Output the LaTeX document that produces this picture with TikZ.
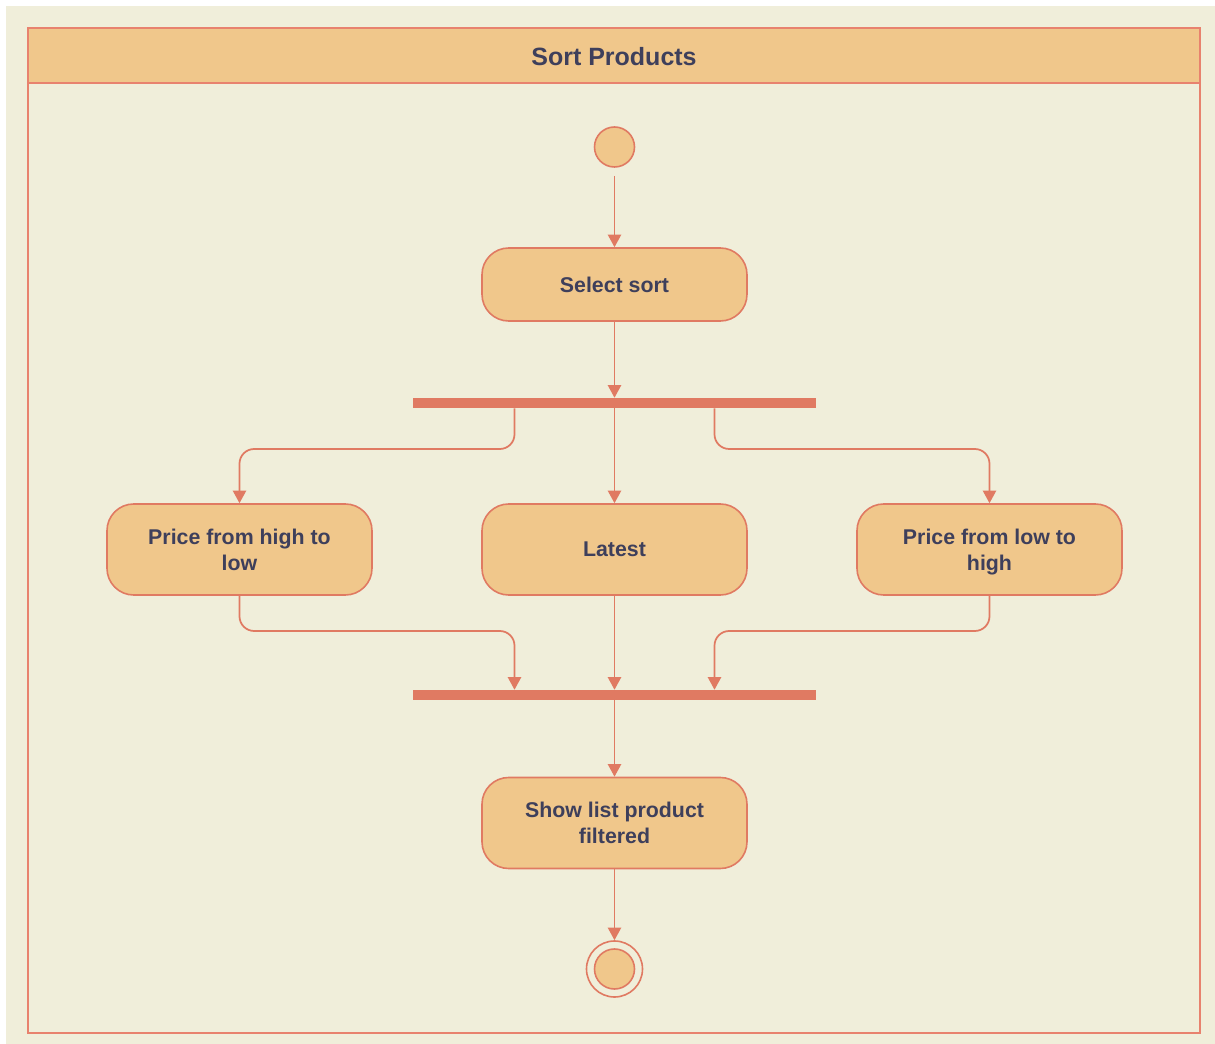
\documentclass[tikz,border=0pt]{standalone}
\usepackage{fontspec}
\setmainfont{Liberation Sans}
\usetikzlibrary{arrows.meta,calc}
\definecolor{bg}{HTML}{F0EEDA}
\definecolor{fillc}{HTML}{F0C78B}
\definecolor{linec}{HTML}{E07A62}
\definecolor{framec}{HTML}{E8826E}
\definecolor{txt}{HTML}{3E3F5B}
\begin{document}
\begin{tikzpicture}[x=0.75pt,y=-0.75pt,
  act/.style={draw=linec, fill=fillc, line width=1.2pt, rounded corners=20pt,
    minimum width=198.75pt, align=center, inner sep=2pt, text depth=0pt,
    font=\fontsize{16}{19.5}\selectfont\bfseries, text=txt},
  syncbar/.style={fill=linec, draw=none, minimum width=302.25pt, minimum height=7.5pt, inner sep=0pt},
  startnode/.style={circle, draw=linec, fill=fillc, line width=1.2pt, minimum size=30pt, inner sep=0pt},
  flow/.style={draw=linec, line width=1.3pt, -{Triangle[length=9.5pt,width=10pt]}, rounded corners=11pt},
]
\useasboundingbox (0,0) rectangle (1215,1044);
\fill[white] (0,0) rectangle (1215,1044);
\fill[bg] (6,6) rectangle (1215,1044);
% swimlane frame
\draw[framec, line width=1.5pt, fill=fillc] (28,28) rectangle (1200,83);
\draw[framec, line width=1.5pt] (28,83) rectangle (1200,1033);
\node[font=\fontsize{18.75}{22}\selectfont\bfseries, text=txt] (title) at (614,57) {Sort Products};

% nodes
\node[startnode] (start) at (614.5,147) {};
\node[act, minimum height=54.75pt] (select) at (614.5,284.5) {Select sort};
\node[syncbar] (bar1) at (614.5,403) {};
\node[act, minimum height=68.25pt] (left) at (239.5,549.5) {Price from high to\\low};
\node[act, minimum height=68.25pt] (mid) at (614.5,549.5) {Latest};
\node[act, minimum height=68.25pt] (right) at (989.5,549.5) {Price from low to\\high};
\node[syncbar] (bar2) at (614.5,695) {};
\node[act, minimum height=68.25pt] (show) at (614.5,823) {Show list product\\filtered};
\node[circle, draw=linec, line width=1.2pt, minimum size=42pt, inner sep=0pt] (endnode) at (614.5,969) {};
\node[circle, draw=linec, fill=fillc, line width=1.2pt, minimum size=30pt, inner sep=0pt] (endinner) at (endnode.center) {};

% ports
\coordinate (b1l) at ([xshift=-75pt]bar1.south);
\coordinate (b1r) at ([xshift=75pt]bar1.south);
\coordinate (b2l) at ([xshift=-75pt]bar2.north);
\coordinate (b2r) at ([xshift=75pt]bar2.north);
\coordinate (j1) at (0,449);
\coordinate (j2) at (0,631);

% connectors
\draw[flow, shorten <=6pt] (start) -- (select);
\draw[flow] (select) -- (bar1);
\draw[flow] (b1l) |- (left.north |- j1) -- (left.north);
\draw[flow] (bar1.south) -- (mid.north);
\draw[flow] (b1r) |- (right.north |- j1) -- (right.north);
\draw[flow] (left.south) |- (b2l |- j2) -- (b2l);
\draw[flow] (mid.south) -- (bar2.north);
\draw[flow] (right.south) |- (b2r |- j2) -- (b2r);
\draw[flow] (bar2.south) -- (show.north);
\draw[flow] (show.south) -- (endnode.north);
\end{tikzpicture}
\end{document}
